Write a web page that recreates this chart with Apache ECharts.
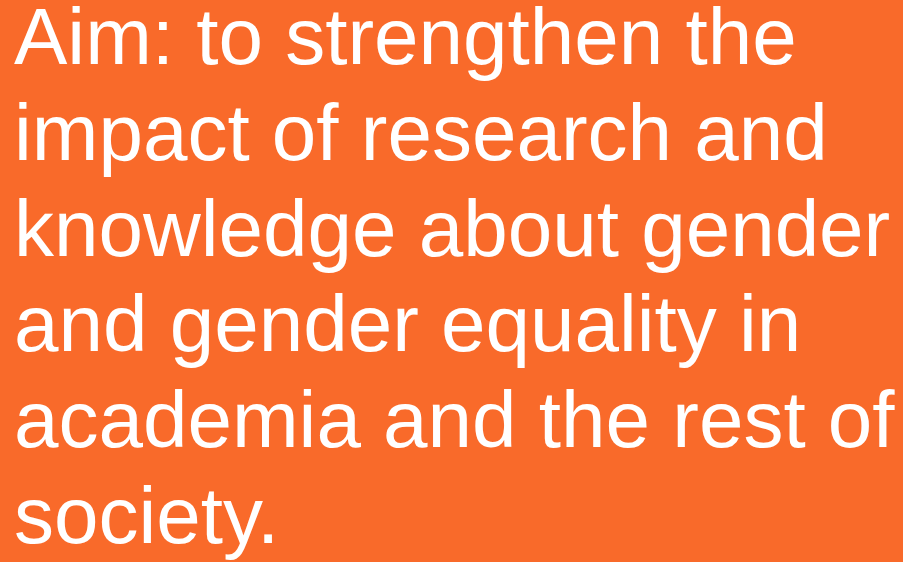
<!DOCTYPE html>
<html>
<head>
<meta charset="utf-8">
<script src="https://cdn.jsdelivr.net/npm/echarts@6/dist/echarts.min.js"></script>
<style>
html,body{margin:0;padding:0;background:#F96A2A;}
#main{width:903px;height:562px;}
</style>
</head>
<body>
<div id="main"></div>
<script>
const lines = [
  "Aim: to strengthen the",
  "impact of research and",
  "knowledge about gender",
  "and gender equality in",
  "academia and the rest of",
  "society."
];
const chart = echarts.init(document.getElementById('main'), null, {renderer: 'canvas'});
const fontSize = 80;
const lineStep = 95.8;
const firstMid = 42;
chart.setOption({
  backgroundColor: '#F96A2A',
  graphic: lines.map((t, i) => ({
    type: 'text',
    left: 14,
    top: firstMid + i * lineStep - fontSize / 2,
    style: {
      text: t,
      fill: '#FFFFFF',
      font: 'normal ' + fontSize + 'px "Liberation Sans", Arial, sans-serif',
      verticalAlign: 'top'
    }
  }))
});
</script>
</body>
</html>
